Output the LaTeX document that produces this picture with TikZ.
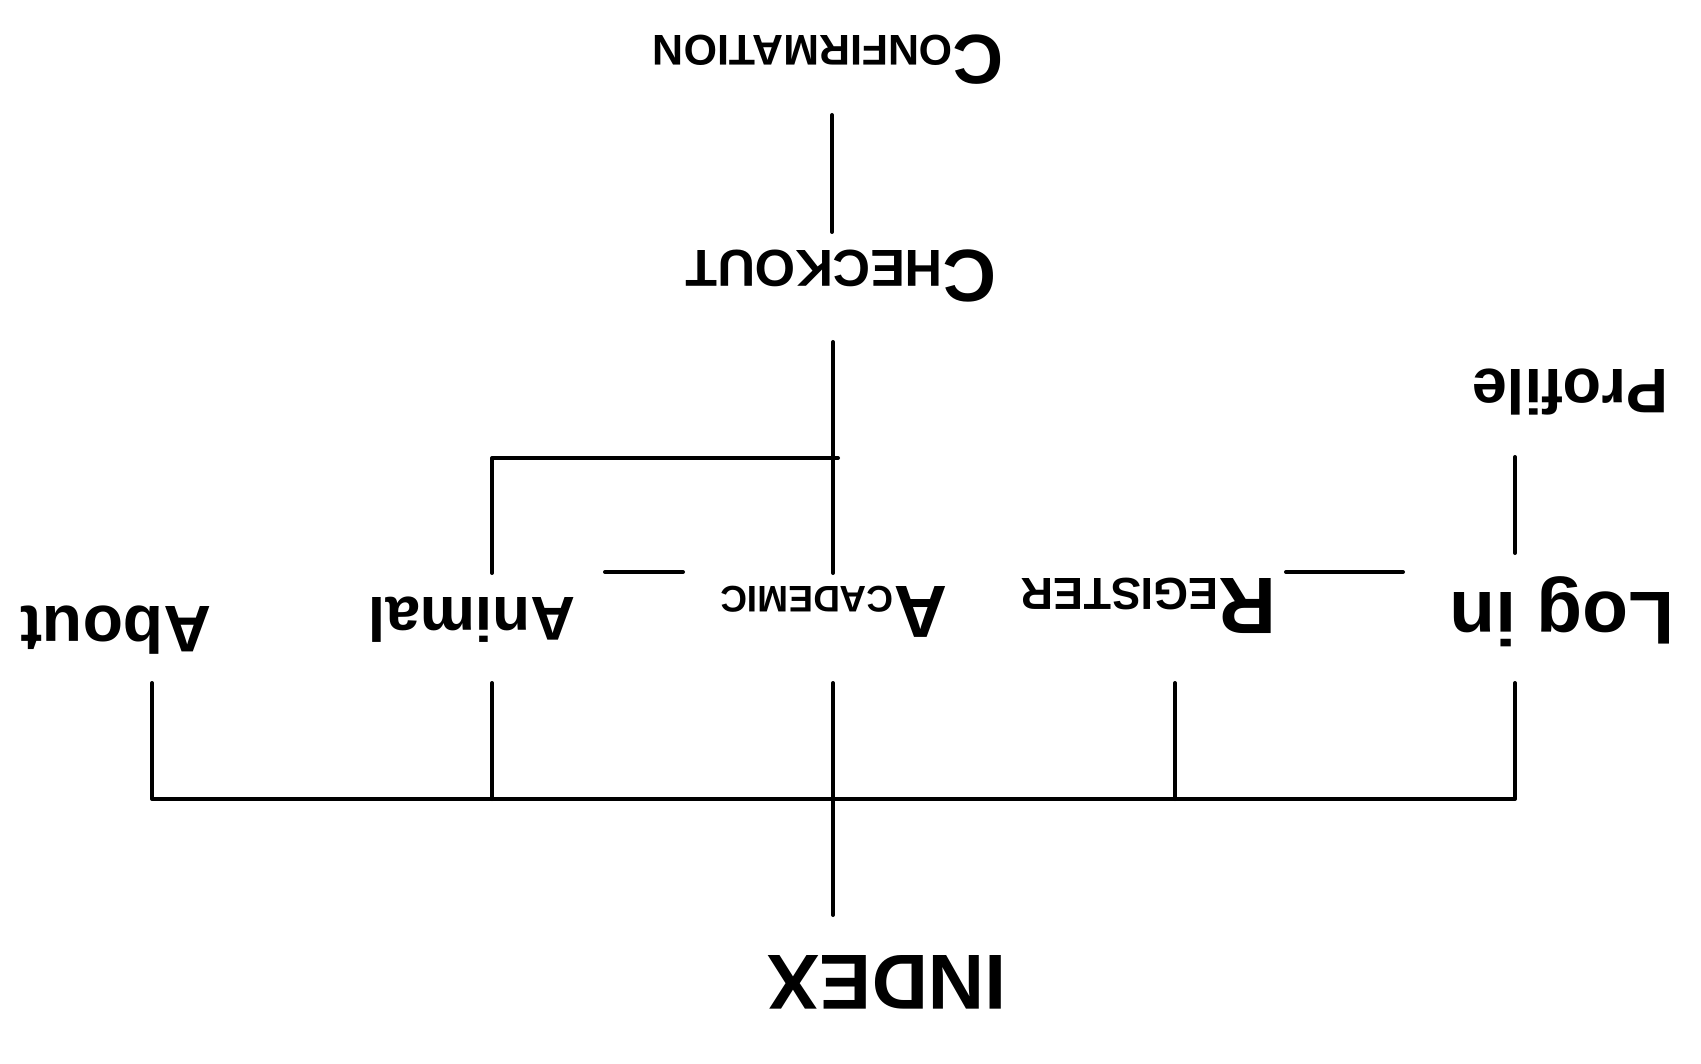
\documentclass[tikz,border=0pt]{standalone}
\usepackage{fontspec}
\setmainfont{Liberation Sans}
\newcommand{\fsz}[1]{\fontsize{#1}{#1}\selectfont}
\begin{document}
\begin{tikzpicture}[x=1pt,y=-1pt,
  lbl/.style={font=\bfseries, rotate=180, inner sep=0pt, anchor=center},
  wire/.style={line width=4pt, line cap=round, line join=round, black}]
\useasboundingbox[fill=white] (0,0) rectangle (1701,1064);

% labels (the whole drawing is upside down)
\node[lbl] (confirm) at (828,60) {{\fsz{70}C}\fsz{43}ONFIRMATION};
\node[lbl] (checkout) at (841,276) {{\fsz{74}C}\fsz{52}HECKOUT};
\node[lbl] (profile) at (1570,392) {\fsz{63}Profile};
\node[lbl] (about) at (116,630) {\fsz{66}About};
\node[lbl] (animal) at (472,620) {\fsz{62}Animal};
\node[lbl] (academic) at (834,612) {{\fsz{74}A}\fsz{37}CADEMIC};
\node[lbl] (register) at (1149,606) {{\fsz{80}R}\fsz{45}EGISTER};
\node[lbl] (login) at (1562,612) {\fsz{75}Log in};
\node[lbl] (index) at (887,982) {\fsz{78}INDEX};

% connector end points
\coordinate (cfB) at (832,115);
\coordinate (ckT) at (832,232);
\coordinate (ckB) at (833,342);
\coordinate (brR) at (838,458);
\coordinate (brL) at (492,458);
\coordinate (anT) at (492,573);
\coordinate (acT) at (833,573);
\coordinate (prB) at (1515,457);
\coordinate (liT) at (1515,553);
\coordinate (d1a) at (605,572);
\coordinate (d1b) at (683,572);
\coordinate (d2a) at (1286,572);
\coordinate (d2b) at (1403,572);
\coordinate (abB) at (152,683);
\coordinate (anB) at (492,683);
\coordinate (acB) at (833,683);
\coordinate (reB) at (1175,683);
\coordinate (liB) at (1515,683);
\coordinate (bus1) at (152,799);
\coordinate (bus2) at (492,799);
\coordinate (bus3) at (833,799);
\coordinate (bus4) at (1175,799);
\coordinate (bus5) at (1515,799);
\coordinate (inT) at (833,915);

% connectors
\draw[wire] (cfB) -- (ckT);
\draw[wire] (ckB) -- (acT);
\draw[wire] (anT) -- (brL) -- (brR);
\draw[wire] (d1a) -- (d1b);
\draw[wire] (d2a) -- (d2b);
\draw[wire] (prB) -- (liT);
\draw[wire] (abB) -- (bus1) -- (bus5) -- (liB);
\draw[wire] (anB) -- (bus2);
\draw[wire] (acB) -- (inT);
\draw[wire] (reB) -- (bus4);
\end{tikzpicture}
\end{document}
